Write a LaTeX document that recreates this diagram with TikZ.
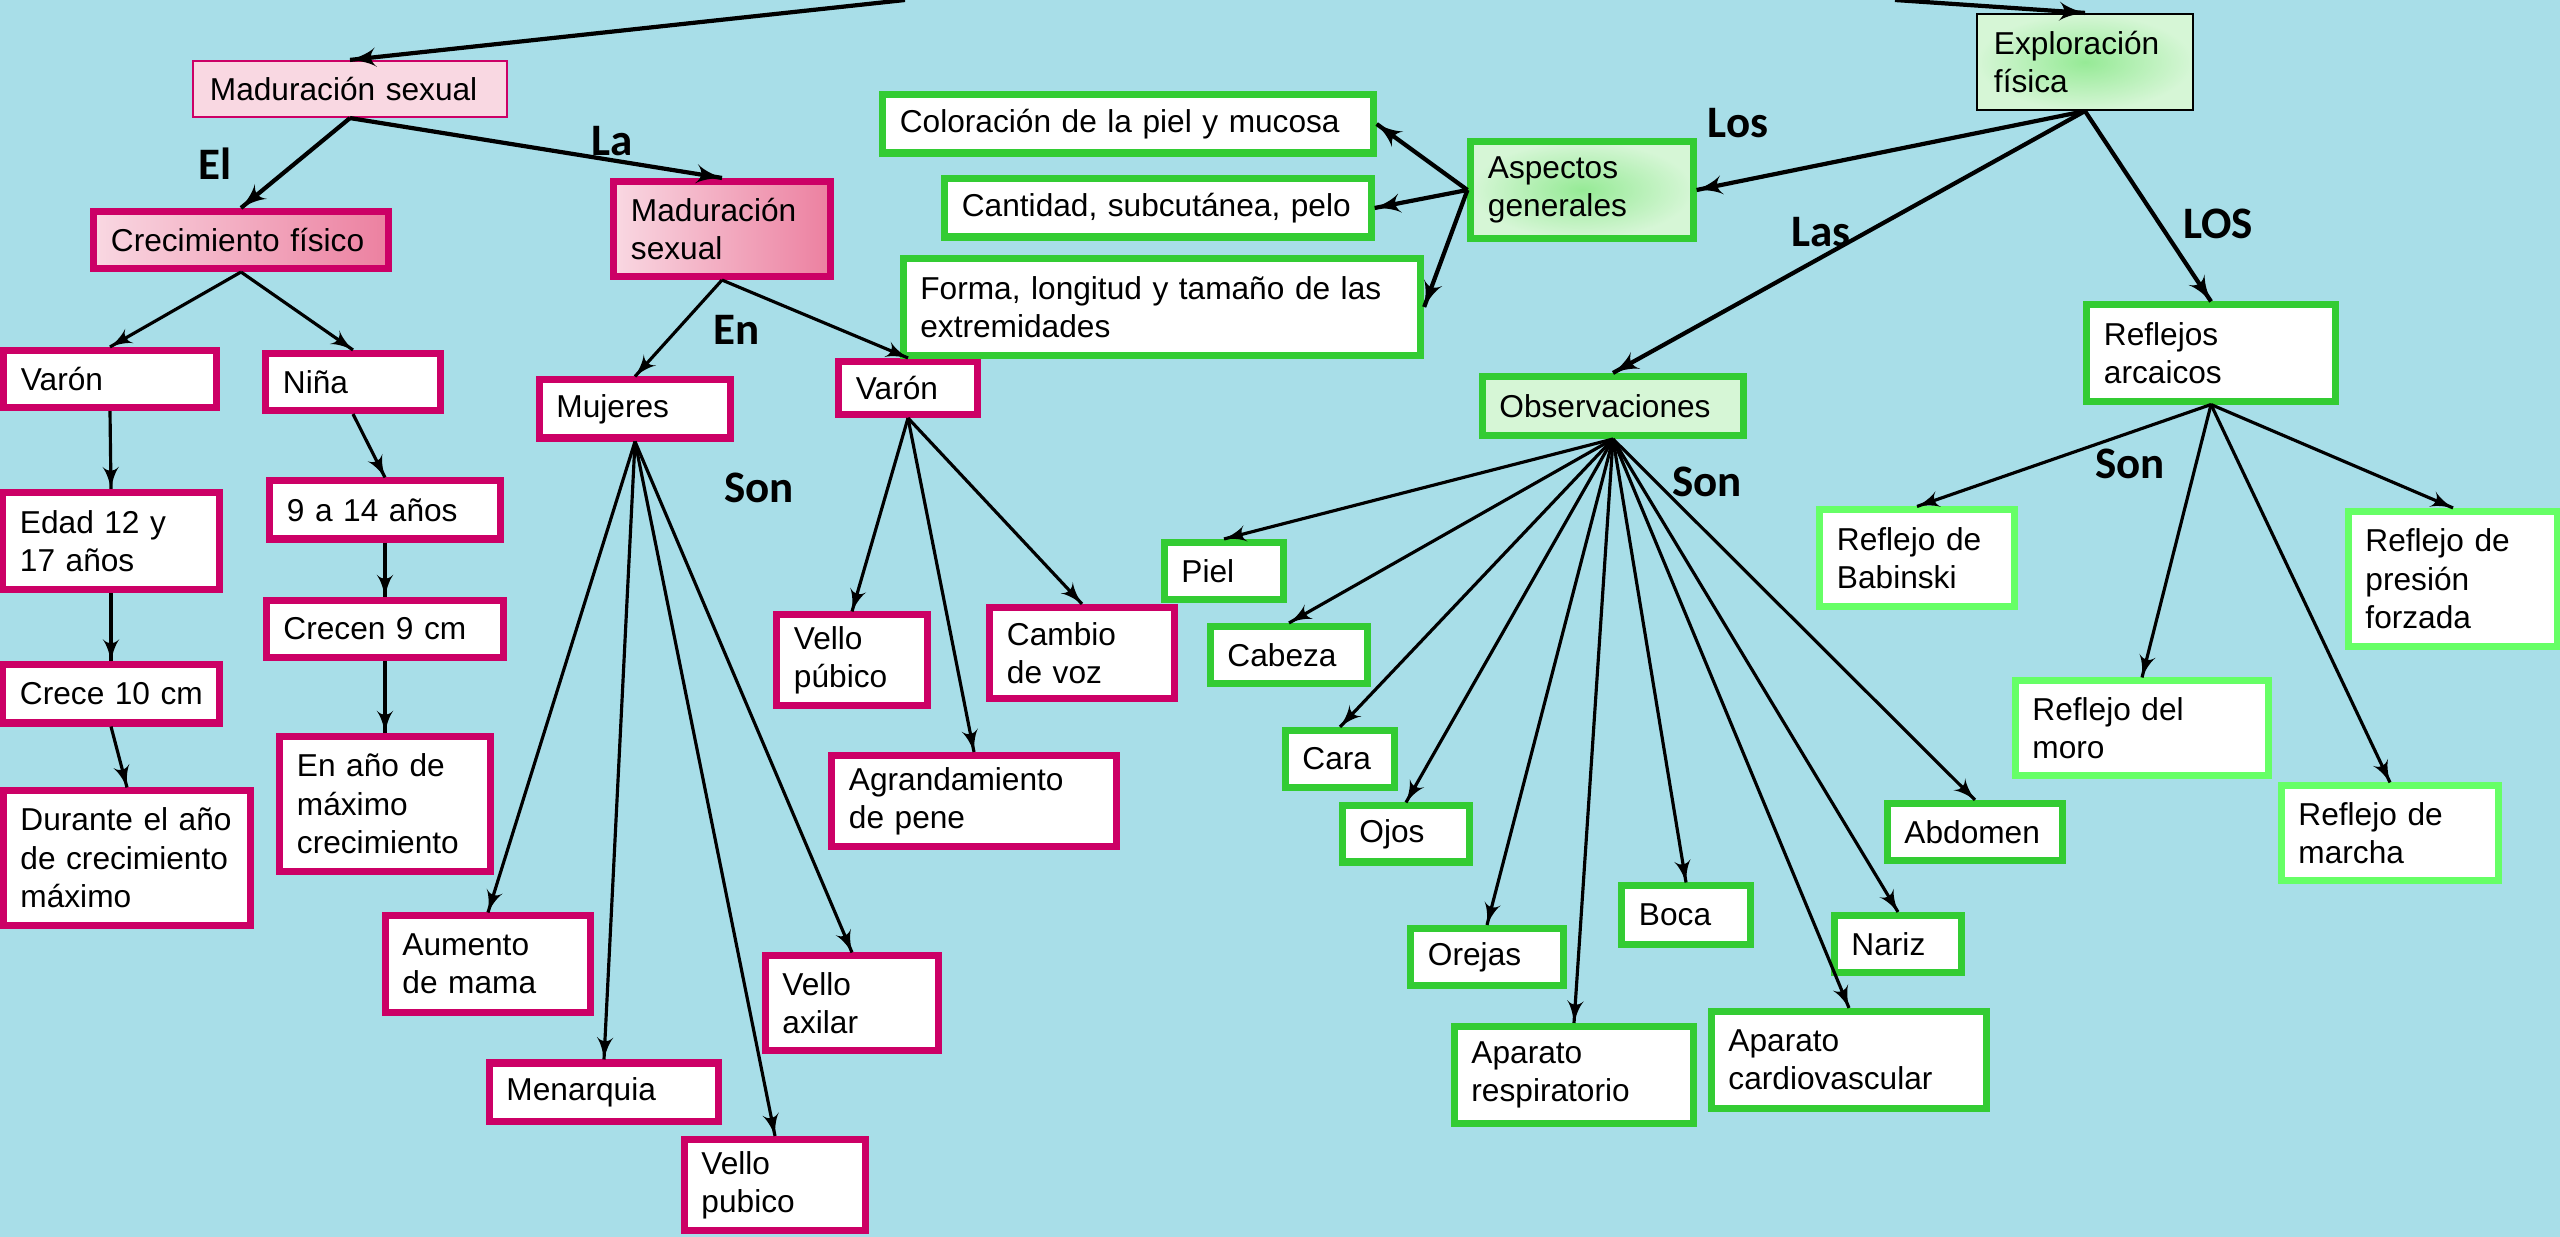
\documentclass[tikz,border=0pt]{standalone}
\usepackage{fontspec}
\setmainfont{Liberation Sans}
\newfontfamily\lblfont{Carlito}
\usepackage{tikz}
\usetikzlibrary{arrows}
\usetikzlibrary{decorations.markings}
\definecolor{bgcol}{RGB}{168,222,232}
\definecolor{mpink}{RGB}{204,0,102}
\definecolor{mgreen}{RGB}{51,204,51}
\definecolor{lgreen}{RGB}{102,255,102}
\definecolor{pinkL}{RGB}{249,216,226}
\definecolor{pinkD}{RGB}{236,128,160}
\definecolor{grL}{RGB}{214,246,214}
\definecolor{grD}{RGB}{150,234,150}
\tikzset{->/.style = {decoration={markings,
                                  mark=at position 1 with {\arrow[scale=1.15]{latex'}}},
                      postaction={decorate}}}
\tikzset{pbox/.style = {draw = mpink, line width = 2pt, fill = white, align = left,
                        inner xsep = 0.17cm, inner ysep = 0.05cm,
                        font = \fontsize{9}{10.9}\selectfont}}
\tikzset{gbox/.style = {pbox, draw = mgreen}}
\tikzset{lbox/.style = {pbox, draw = lgreen}}
\tikzset{pshade/.style = {left color = pinkL, right color = pinkD}}
\tikzset{lbl/.style = {font = \lblfont\bfseries\fontsize{12.8}{15}\selectfont, inner sep = 0}}
\tikzset{thick line/.style = {line width = 1.2pt}}

\begin{document}
\begin{tikzpicture}[x = 0.01cm, y = -0.01cm, line width = 0.9pt]
    \fill [bgcol] (0, 0) rectangle (2560, 1237);
    \useasboundingbox (0, 0) rectangle (2560, 1237);

    % crecimiento y maduracion
    \node [pbox, line width = 0.6pt, left color = pinkL, middle color = pinkD, right color = pinkL,
           text width = 2.80cm, minimum height = 0.56cm] (mstop) at (350, 89) {Maduración sexual};
    \node [pbox, pshade, text width = 2.60cm, minimum height = 0.57cm] (crec) at (241, 240) {Crecimiento~físico};
    \node [pbox, pshade, text width = 1.82cm, minimum height = 0.95cm] (mssec) at (722, 229) {Maduración\\sexual};
    \node [pbox, text width = 1.78cm, minimum height = 0.57cm] (varon1) at (110, 379) {Varón};
    \node [pbox, text width = 1.40cm, minimum height = 0.57cm] (nina) at (353, 382) {Niña};
    \node [pbox, text width = 1.82cm, minimum height = 0.97cm] (edad) at (111, 541) {Edad 12 y\\17 años};
    \node [pbox, text width = 1.82cm, minimum height = 0.58cm] (crece10) at (111, 694) {Crece~10~cm};
    \node [pbox, text width = 2.13cm, minimum height = 1.34cm] (durante) at (127, 858) {Durante~el~año\\de~crecimiento\\máximo};
    \node [pbox, text width = 1.96cm, minimum height = 0.58cm] (nueve) at (385, 510) {9~a~14~años};
    \node [pbox, text width = 2.03cm, minimum height = 0.57cm] (crecen9) at (385, 629) {Crecen~9~cm};
    \node [pbox, text width = 1.76cm, minimum height = 1.35cm] (enano) at (385, 804) {En año de\\máximo\\crecimiento};
    \node [pbox, text width = 1.57cm, minimum height = 0.58cm] (mujeres) at (635, 409) {Mujeres};
    \node [pbox, text width = 1.71cm, minimum height = 0.96cm] (aumento) at (488, 964) {Aumento\\de mama};
    \node [pbox, text width = 1.95cm, minimum height = 0.58cm] (menarquia) at (604, 1092) {Menarquia};
    \node [pbox, text width = 1.47cm, minimum height = 0.91cm] (vpubico2) at (775, 1185) {Vello\\pubico};
    \node [pbox, text width = 1.39cm, minimum height = 0.94cm] (vaxilar) at (852, 1003) {Vello\\axilar};
    \node [pbox, text width = 1.04cm, minimum height = 0.53cm] (varon2) at (908, 388) {Varón};
    \node [pbox, text width = 1.16cm, minimum height = 0.90cm] (vpubico1) at (852, 660) {Vello\\púbico};
    \node [pbox, text width = 1.50cm, minimum height = 0.91cm] (cambio) at (1082, 653) {Cambio\\de voz};
    \node [pbox, text width = 2.50cm, minimum height = 0.91cm] (agrand) at (974, 801) {Agrandamiento\\de pene};

    % exploracion fisica
    \node [gbox, draw = black, line width = 0.6pt, inner color = grD, outer color = grL,
           text width = 1.82cm, minimum height = 0.96cm] (explor) at (2085, 62) {Exploración\\física};
    \node [gbox, inner color = grD, outer color = grL,
           text width = 1.88cm, minimum height = 0.97cm] (aspectos) at (1582, 190) {Aspectos\\generales};
    \node [gbox, text width = 4.56cm, minimum height = 0.58cm] (color) at (1128, 124) {Coloración de la piel y mucosa};
    \node [gbox, text width = 3.92cm, minimum height = 0.58cm] (cantidad) at (1158, 208) {Cantidad,~subcutánea,~pelo};
    \node [gbox, text width = 4.83cm, minimum height = 0.96cm] (forma) at (1162, 307) {Forma, longitud y tamaño de las\\extremidades};
    \node [gbox, left color = grL, middle color = grD, right color = grL,
           text width = 2.27cm, minimum height = 0.59cm] (observ) at (1613, 406) {Observaciones};
    \node [gbox, text width = 0.85cm, minimum height = 0.57cm] (piel) at (1224, 571) {Piel};
    \node [gbox, text width = 1.23cm, minimum height = 0.57cm] (cabeza) at (1289, 655) {Cabeza};
    \node [gbox, text width = 0.75cm, minimum height = 0.57cm] (cara) at (1340, 759) {Cara};
    \node [gbox, text width = 0.93cm, minimum height = 0.56cm] (ojos) at (1406, 834) {Ojos};
    \node [gbox, text width = 1.18cm, minimum height = 0.57cm] (orejas) at (1487, 957) {Orejas};
    \node [gbox, text width = 0.94cm, minimum height = 0.58cm] (boca) at (1686, 915) {Boca};
    \node [gbox, text width = 0.93cm, minimum height = 0.57cm] (nariz) at (1898, 944) {Nariz};
    \node [gbox, text width = 2.05cm, minimum height = 0.97cm] (aprespir) at (1574, 1075) {Aparato\\respiratorio};
    \node [gbox, text width = 2.41cm, minimum height = 0.97cm] (apcardio) at (1849, 1060) {Aparato\\cardiovascular};
    \node [gbox, text width = 1.41cm, minimum height = 0.57cm] (abdomen) at (1975, 832) {Abdomen};
    \node [gbox, text width = 2.14cm, minimum height = 0.96cm] (reflejos) at (2211, 353) {Reflejos\\arcaicos};
    \node [lbox, text width = 1.60cm, minimum height = 0.96cm] (babinski) at (1917, 558) {Reflejo de\\Babinski};
    \node [lbox, text width = 2.19cm, minimum height = 0.94cm] (moro) at (2142, 728) {Reflejo del\\moro};
    \node [lbox, text width = 1.83cm, minimum height = 0.94cm] (marcha) at (2390, 833) {Reflejo de\\marcha};
    \node [lbox, text width = 1.75cm, minimum height = 1.35cm] (presion) at (2453, 579) {Reflejo de\\presión\\forzada};

    % conectores
    \node [lbl] (lEl) at (215, 164) {El};
    \node [lbl] (lLa) at (612, 141) {La};
    \node [lbl] (lEn) at (737, 330) {En};
    \node [lbl] (lSon1) at (759, 488) {Son};
    \node [lbl] (lLos) at (1738, 123) {Los};
    \node [lbl] (lLas) at (1821, 232) {Las};
    \node [lbl] (lLOS) at (2218, 224) {LOS};
    \node [lbl] (lSon2) at (1707, 482) {Son};
    \node [lbl] (lSon3) at (2130, 464) {Son};

    \coordinate (topL) at (905, 0);
    \coordinate (topR) at (1895, 0);

    \draw [->, thick line] (topL) -- (mstop.north);
    \draw [->, thick line] (topR) -- (explor.north);
    \draw [->, thick line] (mstop.south) -- (crec.north);
    \draw [->, thick line] (mstop.south) -- (mssec.north);
    \draw [->] (crec.south) -- (varon1.north);
    \draw [->] (crec.south) -- (nina.north);
    \draw [->] (varon1.south) -- (edad.north);
    \draw [->] (edad.south) -- (crece10.north);
    \draw [->] (crece10.south) -- (durante.north);
    \draw [->] (nina.south) -- (nueve.north);
    \draw [->] (nueve.south) -- (crecen9.north);
    \draw [->] (crecen9.south) -- (enano.north);
    \draw [->] (mssec.south) -- (mujeres.north);
    \draw [->] (mssec.south) -- (varon2.north);
    \draw [->] (mujeres.south) -- (aumento.north);
    \draw [->] (mujeres.south) -- (menarquia.north);
    \draw [->] (mujeres.south) -- (vpubico2.north);
    \draw [->] (mujeres.south) -- (vaxilar.north);
    \draw [->] (varon2.south) -- (vpubico1.north);
    \draw [->] (varon2.south) -- (agrand.north);
    \draw [->] (varon2.south) -- (cambio.north);

    \draw [->, thick line] (explor.south) -- (aspectos.east);
    \draw [->, thick line] (explor.south) -- (observ.north);
    \draw [->, thick line] (explor.south) -- (reflejos.north);
    \draw [->, thick line] (aspectos.west) -- (color.east);
    \draw [->, thick line] (aspectos.west) -- (cantidad.east);
    \draw [->, thick line] (aspectos.west) -- (forma.east);
    \draw [->] (observ.south) -- (piel.north);
    \draw [->] (observ.south) -- (cabeza.north);
    \draw [->] (observ.south) -- (cara.north);
    \draw [->] (observ.south) -- (ojos.north);
    \draw [->] (observ.south) -- (orejas.north);
    \draw [->] (observ.south) -- (aprespir.north);
    \draw [->] (observ.south) -- (boca.north);
    \draw [->] (observ.south) -- (apcardio.north);
    \draw [->] (observ.south) -- (nariz.north);
    \draw [->] (observ.south) -- (abdomen.north);
    \draw [->] (reflejos.south) -- (babinski.north);
    \draw [->] (reflejos.south) -- (moro.north);
    \draw [->] (reflejos.south) -- (marcha.north);
    \draw [->] (reflejos.south) -- (presion.north);
\end{tikzpicture}
\end{document}
